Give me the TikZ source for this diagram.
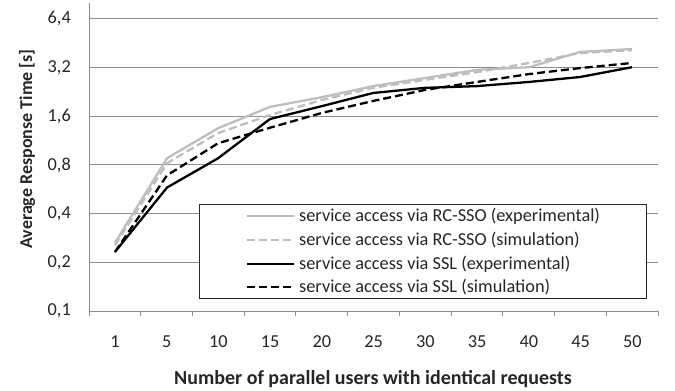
\documentclass[tikz,border=0pt]{standalone}
\usepackage{fontspec}
\setmainfont{Carlito}
\usepackage{tikz}
\definecolor{gridgray}{HTML}{8C8C8C}
\definecolor{ssogray}{HTML}{BEBEBE}
\definecolor{labelgray}{HTML}{262626}
\tikzset{
  gridline/.style={draw=gridgray, line width=1pt},
  ticklabel/.style={font=\fontsize{18.3}{22}\selectfont, text=labelgray, inner sep=0pt},
  axistitle/.style={font=\bfseries\fontsize{20}{24}\selectfont, text=labelgray, inner sep=0pt},
  series/.style={line width=2.3pt, line join=round},
  ssoexp/.style={series, draw=ssogray},
  ssosim/.style={series, draw=ssogray, dash pattern=on 8pt off 4pt},
  sslexp/.style={series, draw=black},
  sslsim/.style={series, draw=black, dash pattern=on 8pt off 4pt},
  legendtext/.style={font=\fontsize{18.3}{22}\selectfont, text=labelgray, anchor=west, inner sep=0pt},
}
% log2 axis: 0,1 sits at y=311, one doubling = 48.67
\newcommand{\ly}[1]{311-70.22*ln(#1/0.1)}

\begin{document}
\begin{tikzpicture}[x=1pt, y=-1pt]
  \useasboundingbox (0,0) rectangle (675,391);
  % grid and value labels
  \foreach \k/\lab in {1/{0,2},2/{0,4},3/{0,8},4/{1,6},5/{3,2},6/{6,4}}
    \draw[gridline] (89,{311-48.67*\k}) -- (658,{311-48.67*\k});
  \foreach \k/\lab in {0/{0,1},1/{0,2},2/{0,4},3/{0,8},4/{1,6},5/{3,2},6/{6,4}}
    \node[ticklabel, anchor=east] (yl\k) at (71,{311-48.67*\k}) {\lab};
  % axes
  \draw[gridline] (89,3) -- (89,311) -- (658,311);
  \foreach \i in {0,...,11}
    \draw[gridline] ({89+51.73*\i},311) -- ({89+51.73*\i},316);
  \foreach \lab [count=\i from 0] in {1,5,10,15,20,25,30,35,40,45,50}
    \node[ticklabel] (xl\i) at ({115+51.73*\i},342) {\lab};
  \node[axistitle, font=\bfseries\fontsize{18}{22}\selectfont, rotate=90] (ytitle) at (27,149) {Average Response Time [s]};
  \node[axistitle] (xtitle) at (373,379) {Number of parallel users with identical requests};

  % data
  \draw[ssoexp] (115,{\ly{0.264}}) -- (167,{\ly{0.88}}) -- (218,{\ly{1.35}}) -- (270,{\ly{1.83}})
    -- (322,{\ly{2.1}}) -- (373,{\ly{2.46}}) -- (425,{\ly{2.76}}) -- (477,{\ly{3.1}})
    -- (529,{\ly{3.22}}) -- (580,{\ly{4.0}}) -- (632,{\ly{4.17}});
  \draw[ssosim] (115,{\ly{0.255}}) -- (167,{\ly{0.82}}) -- (218,{\ly{1.26}}) -- (270,{\ly{1.63}})
    -- (322,{\ly{2.02}}) -- (373,{\ly{2.4}}) -- (425,{\ly{2.69}}) -- (477,{\ly{3.0}})
    -- (529,{\ly{3.42}}) -- (580,{\ly{3.94}}) -- (632,{\ly{4.1}});
  \draw[sslsim] (115,{\ly{0.232}}) -- (167,{\ly{0.69}}) -- (218,{\ly{1.09}}) -- (270,{\ly{1.36}})
    -- (322,{\ly{1.68}}) -- (373,{\ly{1.99}}) -- (425,{\ly{2.33}}) -- (477,{\ly{2.61}})
    -- (529,{\ly{2.92}}) -- (580,{\ly{3.18}}) -- (632,{\ly{3.42}});
  \draw[sslexp] (115,{\ly{0.232}}) -- (167,{\ly{0.58}}) -- (218,{\ly{0.88}}) -- (270,{\ly{1.54}})
    -- (322,{\ly{1.85}}) -- (373,{\ly{2.23}}) -- (425,{\ly{2.4}}) -- (477,{\ly{2.46}})
    -- (529,{\ly{2.61}}) -- (580,{\ly{2.8}}) -- (632,{\ly{3.22}});

  % legend
  \draw[fill=white, draw=labelgray, line width=1pt] (199,204) rectangle (646,298);
  \draw[ssoexp] (247,216) -- (294,216);
  \node[legendtext] (leg1) at (299,216) {service access via RC-SSO (experimental)};
  \draw[ssosim] (247,240) -- (294,240);
  \node[legendtext] (leg2) at (299,240) {service access via RC-SSO (simulation)};
  \draw[sslexp] (247,264) -- (294,264);
  \node[legendtext] (leg3) at (299,264) {service access via SSL (experimental)};
  \draw[sslsim] (247,287) -- (294,287);
  \node[legendtext] (leg4) at (299,287) {service access via SSL (simulation)};
\end{tikzpicture}
\end{document}
